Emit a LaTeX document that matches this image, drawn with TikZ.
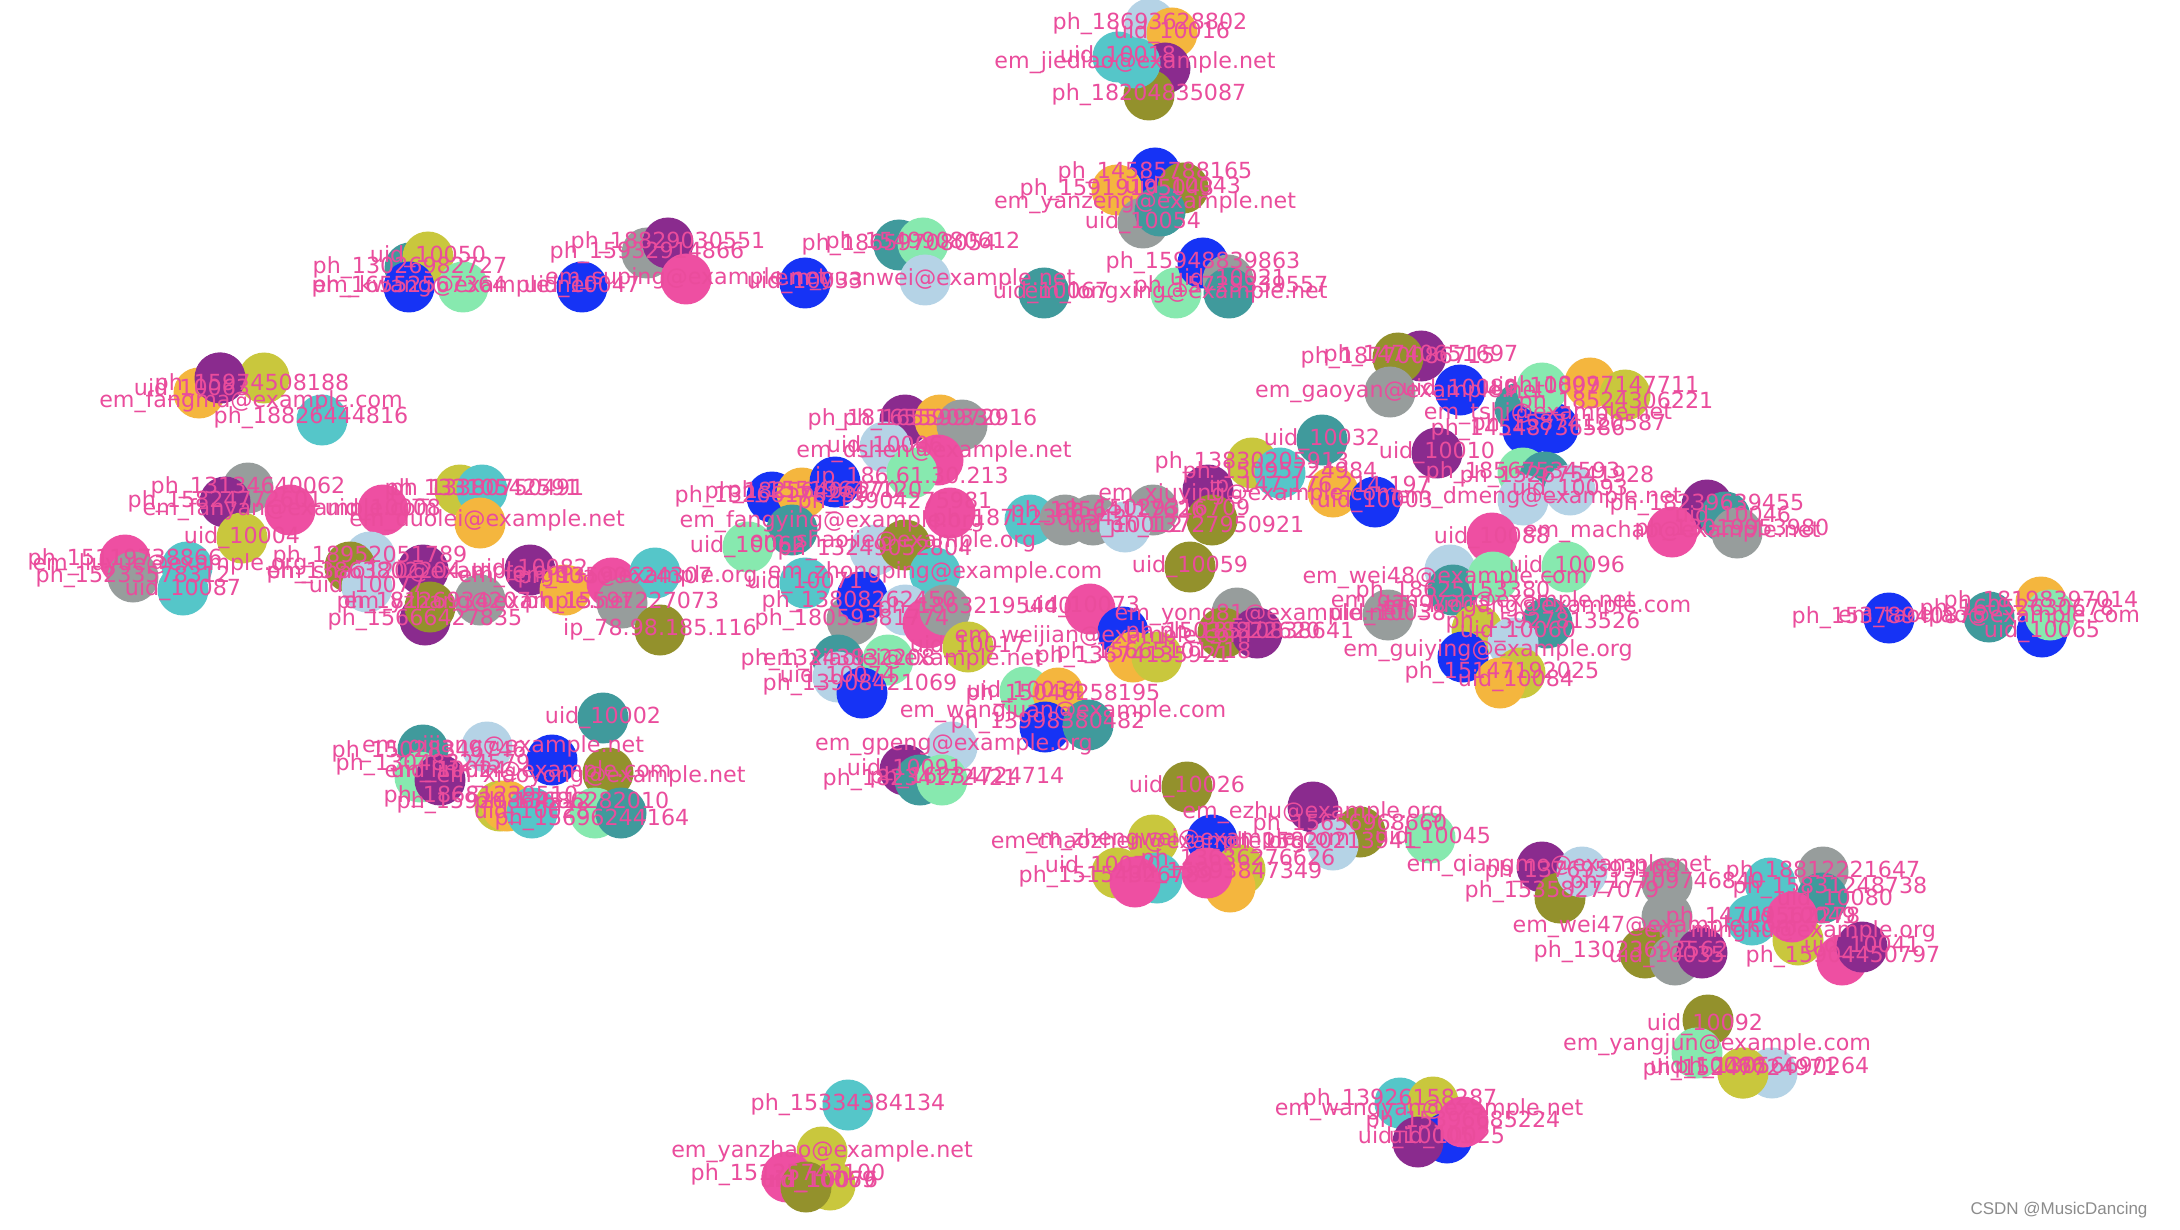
\documentclass[tikz,border=0pt]{standalone}
\usepackage{fontspec}
\setmainfont{DejaVu Sans}
\newfontfamily\wmfont{Liberation Sans}
\usetikzlibrary{calc}
\definecolor{cblue}{RGB}{22,51,245}
\definecolor{cgray}{RGB}{151,157,156}
\definecolor{cpurple}{RGB}{138,43,142}
\definecolor{colive}{RGB}{147,145,44}
\definecolor{cyg}{RGB}{201,199,61}
\definecolor{cteal}{RGB}{64,154,156}
\definecolor{ccyan}{RGB}{85,198,201}
\definecolor{clb}{RGB}{181,211,230}
\definecolor{cmint}{RGB}{135,233,175}
\definecolor{corange}{RGB}{244,182,62}
\definecolor{cpink}{RGB}{238,79,162}
\definecolor{labcol}{RGB}{234,76,156}
\definecolor{wmcol}{RGB}{140,140,140}
\pgfdeclarelayer{edges}
\pgfsetlayers{edges,main}
\tikzset{
  circ/.style={circle,draw=none,minimum size=25.5pt,inner sep=0pt},
  lab/.style={text=labcol,font=\fontsize{11.1}{12.5}\selectfont,inner sep=0pt},
  edge/.style={draw=black,line width=0.5pt}
}
\newcommand\Ncirc[5][0,0]{\node[circ,fill=#4] (#2) at (#3) {};}
\newcommand\Nlab[5][0,0]{\node[lab] at ($(#2)+(#1)$) {#5};}
\newcommand\nodelist{%
% top-left chain
\N{A1}{410,268}{cteal}{ph\_13026982727}
\N{A2}{428,257}{cyg}{uid\_10050}
\N{A3}{409,287}{cblue}{ph\_16552567364}
\N[-10,0]{A4}{463,287}{cmint}{em\_kwang@example.net}
\N{A5}{582,287}{cblue}{uid\_10047}
\N{A6}{647,253}{cgray}{ph\_15932914866}
\N{A7}{668,243}{cpurple}{ph\_18829030551}
\N{A8}{686,279}{cpink}{em\_suping@example.net}
\N{A9}{805,283}{cblue}{uid\_10033}
\N{A10}{899,245}{cteal}{ph\_18659708054}
\N{A11}{923,243}{cmint}{ph\_15499080612}
\N{A12}{925,280}{clb}{em\_yuanwei@example.net}
\N[7,0]{A13}{1044,293}{cteal}{uid\_10067}
\N{A14}{1176,293}{cmint}{em\_longxing@example.net}
\N{A15}{1203,263}{cblue}{ph\_15948839863}
\N{A16}{1228,280}{cgray}{uid\_10021}
\N[2,-6]{A17}{1229,293}{cteal}{ph\_15729339557}
% top clusters
\N{B1}{1150,24}{clb}{ph\_18693628802}
\N{B2}{1172,33}{corange}{uid\_10016}
\N[-4,-2]{B4}{1165,68}{cpurple}{}
\N{B3}{1118,57}{ccyan}{uid\_10018}
\N{B5}{1149,95}{colive}{ph\_18204835087}
\N{B6}{1135,63}{ccyan}{em\_jiediao@example.net}
\N{C1}{1155,173}{cblue}{ph\_14585788165}
\N{C2}{1117,190}{corange}{ph\_15919195043}
\N{C4}{1160,211}{cteal}{}
\N{C3}{1183,188}{colive}{uid\_10043}
\N{C5}{1143,223}{cgray}{uid\_10054}
\N[-15,-8]{C6}{1160,211}{cteal}{em\_yanzeng@example.net}
% upper right of centre
\N{D2}{1421,356}{cpurple}{ph\_14740651697}
\N{D1}{1398,358}{colive}{ph\_18770086715}
\N[10,0]{D3}{1390,392}{cgray}{em\_gaoyan@example.net}
\N{D4}{1460,390}{cblue}{uid\_10089}
\N[28,6]{D8}{1520,408}{cteal}{em\_tshi@example.net}
\N{D10}{1528,430}{cblue}{ph\_14548736586}
\N[16,-3]{D9}{1553,428}{cblue}{ph\_15874120587}
\N{D5}{1542,388}{cmint}{uid\_10097}
\N[12,4]{D6}{1590,383}{corange}{ph\_18097147711}
\N[-9,8]{D7}{1625,395}{cyg}{ph\_18524306221}
\N{E2}{1252,463}{cyg}{ph\_13830205913}
\N{E3}{1280,473}{ccyan}{ph\_15095724984}
\N{E1}{1322,440}{cteal}{uid\_10032}
\N[-13,-5]{E4}{1333,492}{corange}{ip\_147.176.214.197}
\N{E5}{1375,502}{cblue}{uid\_10003}
\N{E6}{1437,453}{cpurple}{uid\_10010}
\N[15,-8]{E11}{1093,520}{cgray}{ph\_18564117626}
\N{E9}{1153,510}{cgray}{ph\_15029316709}
\N{E10}{1125,527}{clb}{uid\_10012}
\N[40,5]{E7}{1208,490}{cpurple}{em\_xiuying@example.com}
\N[-5,7]{E8}{1212,520}{colive}{ph\_13727950921}
\N{E12}{1190,567}{colive}{uid\_10059}
\N{T1}{1523,473}{cmint}{ph\_18567534593}
\N[12,0]{T2}{1545,477}{cteal}{ph\_15267541928}
\N[16,-2]{T3}{1523,500}{clb}{em\_dmeng@example.net}
\N{T4}{1570,490}{clb}{uid\_10093}
\N{T5}{1492,538}{cpink}{uid\_10088}
\N{T6}{1388,615}{cgray}{uid\_10038}
\N[-5,8]{T7}{1450,570}{clb}{em\_wei48@example.com}
\N[0,2]{T8}{1453,590}{cteal}{ph\_18625153380}
\N[-10,25]{T9}{1493,577}{cmint}{em\_gangyan@example.net}
\N{T10}{1567,567}{cmint}{uid\_10096}
\N[41,2]{T13}{1477,630}{cyg}{uid\_10060}
\N[-10,-16]{T11}{1547,623}{cteal}{em\_luogang@example.com}
\N[30,-20]{T12}{1513,643}{clb}{ph\_15927813526}
\N[25,-6]{T14}{1463,657}{cblue}{em\_guiying@example.org}
\N[-18,0]{T15}{1520,673}{cyg}{ph\_15147192025}
\N[16,-2]{T16}{1500,683}{corange}{uid\_10084}
\N{S1}{1707,505}{cpurple}{ph\_18239639455}
\N[8,0]{S2}{1725,517}{cteal}{uid\_10046}
\N[-5,-3]{S3}{1737,533}{cgray}{ph\_13019953980}
\N{S4}{1672,532}{cpink}{em\_machao@example.net}
\N{R1}{1889,618}{cblue}{ph\_15378940875}
\N{R2}{1989,617}{cteal}{em\_taoqiao@example.com}
\N{R3}{2041,602}{corange}{ph\_18198397014}
\N{R5}{2042,632}{cblue}{uid\_10065}
\N[-33,-5]{R4}{2050,615}{cmint}{ph\_16052630678}
% centre cluster
\N{F3}{905,420}{cpurple}{ph\_18165590330}
\N{F2}{885,447}{clb}{uid\_10006}
\N{F4}{940,420}{corange}{ph\_16559972916}
\N{F5}{962,425}{cgray}{}
\N[-4,-8]{F6}{938,460}{cpink}{em\_dshen@example.net}
\N[0,5]{F7}{912,473}{cmint}{ip\_186.61.30.213}
\N{F10}{772,497}{cblue}{ph\_13266178230}
\N{F9}{802,493}{corange}{ph\_18256406270}
\N[-10,10]{F8}{835,482}{cblue}{ph\_15519647120}
\N[40,-8]{F11}{792,530}{cteal}{em\_fangying@example.org}
\N{F12}{748,547}{cmint}{uid\_10062}
\N{F13}{875,550}{clb}{ph\_13249052804}
\N[-12,-3]{F14}{905,545}{colive}{em\_shaojie@example.org}
\N[-55,-10]{F1}{950,513}{cpink}{ph\_13904275981}
\N{F15}{1030,520}{ccyan}{ph\_18712306542}
\N{F16}{1065,520}{cgray}{}
\N{F18}{805,583}{ccyan}{uid\_10071}
\N{F22}{935,573}{ccyan}{em\_zhongping@example.com}
\N{F23}{852,620}{cgray}{ph\_18059381774}
\N[-3,5]{F19}{862,597}{cblue}{ph\_13808262450}
\N{F20}{905,610}{clb}{}
\N{F24}{928,623}{cpink}{}
\N[30,-2]{F21}{945,610}{cgray}{ph\_18632195440}
\N[-8,-2]{F25}{1090,609}{cpink}{uid\_10073}
\N[-20,5]{F26}{1123,632}{cblue}{em\_weijian@example.com}
\N{F27}{1133,657}{corange}{ph\_13674135921}
\N[-3,-4]{F28}{1157,657}{cyg}{ph\_15665101718}
\N[23,2]{V1}{1237,613}{cgray}{em\_yong81@example.net}
\N{V2}{1223,633}{colive}{ph\_15038822620}
\N{V3}{1257,633}{cpurple}{ph\_18510838641}
\N{G1}{968,647}{cyg}{uid\_10017}
\N{G10}{838,660}{cteal}{ph\_13243832208}
\N[15,0]{G12}{888,660}{cmint}{em\_xiaolei@example.net}
\N{G11}{838,677}{clb}{uid\_10074}
\N[-2,-8]{G13}{862,693}{cblue}{ph\_13908421069}
\N{G2}{1025,692}{cmint}{uid\_10034}
\N[5,2]{G3}{1058,693}{corange}{ph\_15046258195}
\N[3,-4]{G4}{1045,727}{cblue}{ph\_13998380482}
\N[-25,-13]{G5}{1088,725}{cteal}{em\_wangjuan@example.com}
\N[2,-2]{G6}{952,747}{clb}{em\_gpeng@example.org}
\N{G7}{905,770}{cpurple}{uid\_10091}
\N{G8}{920,780}{cteal}{ph\_18234172421}
\N[25,-2]{G9}{942,780}{cmint}{ph\_16234724714}
% left-centre
\N{K1}{530,570}{cpurple}{uid\_10082}
\N{K2}{565,590}{corange}{}
\N[-4,-6]{K3}{612,583}{cpink}{em\_fenghua@example.org}
\N[-40,5]{K5}{655,573}{ccyan}{ph\_13590624307}
\N{K4}{622,603}{cgray}{ph\_15597227073}
\N{K6}{660,630}{colive}{ip\_78.98.185.116}
\N{K7}{603,718}{cteal}{uid\_10002}
% left
\N{L1}{248,488}{cgray}{ph\_13134640062}
\N{L2}{225,502}{cpurple}{ph\_15824772601}
\N{L4}{242,538}{cyg}{uid\_10004}
\N{L3}{290,510}{cpink}{em\_fanyan@example.com}
\N{L5}{383,510}{cpink}{uid\_10008}
\N[22,0]{L6}{460,490}{cyg}{ph\_13310542591}
\N[5,0]{L7}{482,490}{ccyan}{ph\_13380750491}
\N[7,-2]{L8}{480,523}{corange}{em\_duolei@example.net}
\N{L9}{125,560}{cpink}{ph\_15119738866}
\N{L10}{133,577}{cgray}{ph\_15233578312}
\N[-17,-2]{L11}{187,567}{ccyan}{em\_liuyue@example.org}
\N{L12}{183,590}{ccyan}{uid\_10087}
\N{L13}{370,557}{clb}{ph\_18952051789}
\N[14,6]{L14}{350,567}{colive}{ph\_13863802204}
\N{L15}{367,587}{clb}{uid\_10077}
\N[-5,3]{L16}{423,570}{cpurple}{em\_shao120@example.org}
\N{L18}{425,620}{cpurple}{ph\_15666427835}
\N[4,-4]{L17}{430,607}{colive}{ph\_18126934207}
\N[8,3]{L19}{480,600}{cgray}{em\_yzhang@example.net}
\N{M1}{220,378}{cpurple}{}
\N[-7,-3]{M3}{199,393}{corange}{uid\_10063}
\N[-12,7]{M2}{264,378}{cyg}{ph\_15974508188}
\N[-11,-2]{M4}{322,420}{ccyan}{ph\_18826444816}
\N[31,24]{M5}{220,378}{cpurple}{em\_fangma@example.com}
% bottom-left
\N[6,2]{BL1}{423,750}{cteal}{ph\_15028346746}
\N[16,0]{BL2}{487,747}{clb}{em\_qijiang@example.net}
\N[-24,12]{BL3}{552,760}{cblue}{em\_linmin@example.com}
\N[29,-5]{BL4}{420,777}{cmint}{uid\_10024}
\N[-7,-15]{BL5}{440,780}{cpurple}{ph\_13048324579}
\N[-17,4]{BL6}{608,773}{colive}{em\_xiaoyong@example.net}
\N[-19,-9]{BL7}{500,806}{cyg}{ph\_18681239510}
\N[-13,-3]{BL8}{507,806}{corange}{ph\_15920864512}
\N{BL9}{532,813}{ccyan}{uid\_10028}
\N[-23,-10]{BL10}{595,813}{cmint}{ph\_13686282010}
\N[-29,7]{BL11}{621,813}{cteal}{ph\_15696244164}
% bottom centre
\N{H1}{1187,787}{colive}{uid\_10026}
\N[0,6]{H2}{1313,807}{cpurple}{em\_ezhu@example.org}
\N[-10,-7]{H3}{1360,832}{colive}{ph\_15656968660}
\N[-13,-2]{H4}{1333,845}{clb}{ph\_15820213941}
\N[-5,3]{H6}{1153,840}{cyg}{em\_chaozhen@example.org}
\N[-24,0]{H5}{1212,840}{cblue}{em\_zhengwei@example.com}
\N[-14,-6]{H7}{1117,873}{cyg}{uid\_10070}
\N{H9}{1157,878}{ccyan}{}
\N[-19,-5]{H8}{1135,882}{cpink}{ph\_15154326789}
\N[-2,-10]{H11}{1240,870}{cyg}{ph\_13636276626}
\N{H12}{1230,887}{corange}{}
\N[18,0]{H10}{1207,873}{cpink}{ph\_15893847349}
% bottom right
\N[3,0]{N1}{1430,838}{cmint}{uid\_10045}
\N[17,-1]{N2}{1542,867}{cpurple}{em\_qiangmo@example.net}
\N[2,-6]{N4}{1560,898}{colive}{ph\_15358277079}
\N{N3}{1582,872}{clb}{ph\_13769593108}
\N[-12,10]{N17}{1667,917}{cgray}{em\_wei47@example.com}
\N{N5}{1667,883}{cgray}{ph\_17709746840}
\N[-14,-1]{N14}{1645,953}{colive}{ph\_13023692562}
\N[-8,-3]{N15}{1675,960}{cgray}{uid\_10035}
\N{N16}{1702,953}{cpurple}{}
\N{N6}{1823,872}{cgray}{ph\_18812221647}
\N[60,5]{N7}{1770,883}{ccyan}{ph\_15831248738}
\N[13,2]{N18}{1822,898}{cteal}{uid\_10080}
\N[11,-2]{N10}{1752,920}{ccyan}{ph\_14709562278}
\N[-8,-8]{N11}{1798,940}{cyg}{em\_minghu@example.org}
\N[6,1]{N9}{1792,917}{cpink}{uid\_10049}
\N[1,-3]{N12}{1842,960}{cpink}{ph\_15904450797}
\N{N13}{1862,947}{cpurple}{uid\_10041}
\N[-3,5]{N20}{1708,1020}{colive}{uid\_10092}
\N[20,-8]{N21}{1697,1053}{cmint}{em\_yangjun@example.com}
\N[-3,-3]{N22}{1743,1073}{cyg}{ph\_15247724971}
\N[0,-5]{N23}{1772,1073}{clb}{ph\_13056690264}
\N[-35,-5]{N24}{1743,1073}{cyg}{uid\_10066}
% bottom
\N{P1}{848,1105}{ccyan}{ph\_15334384134}
\N{P2}{822,1152}{cyg}{em\_yanzhao@example.net}
\N[-10,-3]{P5}{830,1185}{cyg}{uid\_10076}
\N[1,-2]{P3}{787,1177}{cpink}{ph\_15125743100}
\N[12,-5]{P4}{806,1187}{colive}{uid\_10069}
\N[0,-3]{Q1}{1400,1103}{ccyan}{ph\_13926158287}
\N[-4,8]{Q2}{1433,1102}{cyg}{em\_wangyan@example.net}
\N{Q4}{1447,1138}{cblue}{uid\_10025}
\N{Q3}{1463,1122}{cpink}{ph\_15396685224}
\N[-2,-4]{Q5}{1418,1142}{cpurple}{uid\_10005}
}
\begin{document}
\begin{tikzpicture}[x=0.5pt,y=-0.5pt]
\fill[white] (0,0) rectangle (2180,1230);
\path[use as bounding box] (0,0) rectangle (2180,1230);
\let\N\Ncirc
\nodelist
\begin{pgfonlayer}{edges}
\foreach \a/\b in {A4/A5,A5/A8,A8/A9,A9/A12,A12/A13,A13/A14,
  L3/L4,L3/L5,L5/L8,L8/K1,L16/K1,L4/L11,L9/L11,M2/M4,
  D3/E1,E6/E5,E6/D10,E12/E8,E12/F26,E4/E7,F1/E11,
  F21/F25,F25/V1,V1/T6,T6/T14,T6/T8,T10/S4,
  K6/F13,K5/F12,F12/F11,K7/K6,K7/BL2,K7/BL3,
  G1/G2,G6/G2,G5/H1,H1/H2,H1/H6,H3/N1,N1/N2,N3/N5,N5/N18,
  P1/P2,R1/R2}
  \draw[edge] (\a) -- (\b);
\end{pgfonlayer}
\let\N\Nlab
\nodelist
\node[text=wmcol,font=\wmfont\fontsize{8.5}{10}\selectfont,inner sep=0pt] (wm) at (2059,1210) {CSDN @MusicDancing};
\end{tikzpicture}
\end{document}
